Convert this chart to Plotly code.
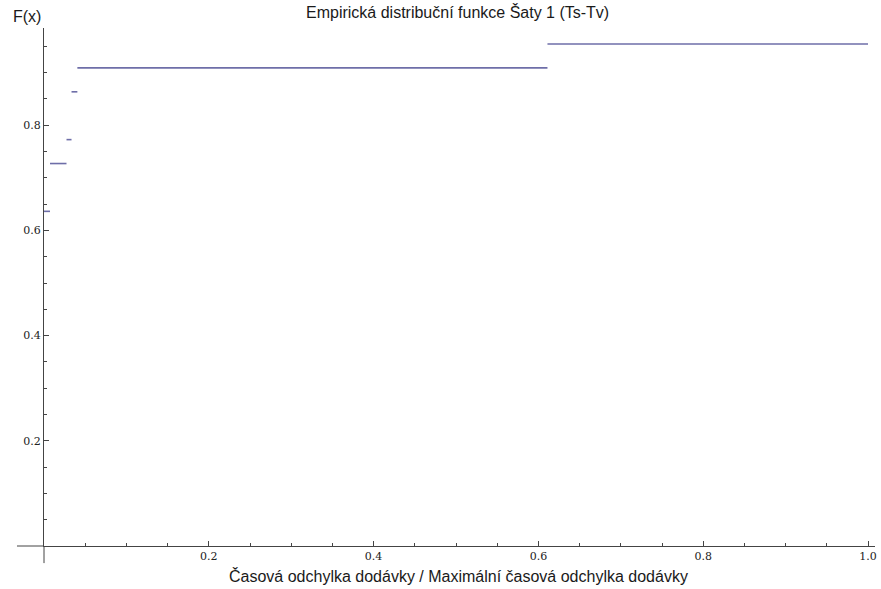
import plotly.graph_objects as go

# Empirical CDF data (n = 22)
x_breaks = [0.0, 0.0073, 0.0273, 0.0334, 0.0405, 0.611, 1.0]
cum_counts = [14, 16, 17, 19, 20, 21, 22]
n_total = 22

title_text = "Empirická distribuční funkce Šaty 1 (Ts-Tv)"
x_title = "Časová odchylka dodávky / Maximální časová odchylka dodávky"
y_title = "F(x)"
tick_vals = [0.2, 0.4, 0.6, 0.8, 1.0]
x_tick_text = ["0.2", "0.4", "0.6", "0.8", "1.0"]
y_tick_vals = [0.2, 0.4, 0.6, 0.8]
y_tick_text = ["0.2", "0.4", "0.6", "0.8"]

seg_x, seg_y = [], []
for i in range(len(x_breaks) - 1):
    v = cum_counts[i] / n_total
    seg_x += [x_breaks[i], x_breaks[i + 1], None]
    seg_y += [v, v, None]

fig = go.Figure()
fig.add_trace(go.Scatter(x=seg_x, y=seg_y, mode="lines",
                         line=dict(color="#6E6EA8", width=1.6),
                         hoverinfo="skip", showlegend=False))

axis_col = "#444444"
tick_font = dict(family="DejaVu Serif", size=11, color="#222222")

fig.update_layout(
    width=881, height=589,
    margin=dict(l=44, r=6, t=28, b=43, autoexpand=False),
    paper_bgcolor="white", plot_bgcolor="white",
    showlegend=False,
    xaxis=dict(range=[0, 1.0085], showgrid=False, zeroline=False,
               automargin=False,
               showline=True, linecolor=axis_col, linewidth=1,
               tickmode="array", tickvals=tick_vals, ticktext=x_tick_text,
               ticks="inside", ticklen=5, tickcolor=axis_col, tickwidth=1,
               tickfont=tick_font,
               minor=dict(dtick=0.05, tick0=0, ticks="inside", ticklen=3,
                          tickcolor=axis_col, showgrid=False)),
    yaxis=dict(range=[0, 0.985], showgrid=False, zeroline=False,
               automargin=False,
               showline=True, linecolor=axis_col, linewidth=1,
               tickmode="array", tickvals=y_tick_vals, ticktext=y_tick_text,
               ticks="inside", ticklen=5, tickcolor=axis_col, tickwidth=1,
               tickfont=tick_font,
               minor=dict(dtick=0.05, tick0=0, ticks="inside", ticklen=3,
                          tickcolor=axis_col, showgrid=False)),
    shapes=[
        dict(type="line", xref="paper", yref="paper", x0=-0.0325, x1=0, y0=0, y1=0,
             line=dict(color=axis_col, width=1)),
        dict(type="line", xref="paper", yref="paper", x0=0, x1=0, y0=-0.033, y1=0,
             line=dict(color=axis_col, width=1)),
    ],
    annotations=[
        dict(text=title_text, xref="paper", yref="paper",
             x=(457 - 44) / 831, y=1, yshift=16, showarrow=False,
             xanchor="center", yanchor="middle",
             font=dict(family="Liberation Sans", size=16, color="#1a1a1a")),
        dict(text=y_title, xref="paper", yref="paper",
             x=(27 - 44) / 831, y=1, yshift=12, showarrow=False,
             xanchor="center", yanchor="middle",
             font=dict(family="Liberation Sans", size=16, color="#1a1a1a")),
        dict(text=x_title, xref="paper", yref="paper",
             x=(458 - 44) / 831, y=0, yshift=-30, showarrow=False,
             xanchor="center", yanchor="middle",
             font=dict(family="Liberation Sans", size=16, color="#1a1a1a")),
    ],
)

fig.write_html("out.html")
